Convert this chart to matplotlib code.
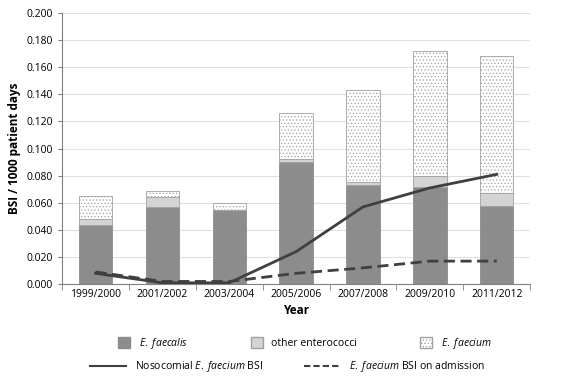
import numpy as np
import matplotlib.pyplot as plt
from matplotlib.patches import Patch
from matplotlib.lines import Line2D

plt.rcParams['font.family'] = ['Open Sans', 'DejaVu Sans']
plt.rcParams['mathtext.fontset'] = 'custom'
plt.rcParams['mathtext.rm'] = 'Open Sans'
plt.rcParams['mathtext.it'] = 'Open Sans:italic'
plt.rcParams['hatch.color'] = '#c0c0c0'
plt.rcParams['hatch.linewidth'] = 0.5

years = ['1999/2000', '2001/2002', '2003/2004', '2005/2006', '2007/2008', '2009/2010', '2011/2012']
faecalis = [0.044, 0.057, 0.055, 0.090, 0.073, 0.072, 0.058]
other = [0.004, 0.007, 0.000, 0.002, 0.002, 0.008, 0.009]
faecium = [0.017, 0.005, 0.005, 0.034, 0.068, 0.092, 0.101]
nosocomial = [0.008, 0.001, 0.001, 0.024, 0.057, 0.071, 0.081]
admission = [0.009, 0.002, 0.002, 0.008, 0.012, 0.017, 0.017]

fig = plt.figure(figsize=(5.75, 3.84), dpi=100)
ax = fig.add_axes([0.108, 0.26, 0.814, 0.706])

x = np.arange(len(years))
w = 0.5
b1 = np.array(faecalis)
b2 = b1 + np.array(other)
ax.bar(x, faecalis, w, color='#8c8c8c', edgecolor='#8c8c8c', linewidth=0.6, zorder=2)
ax.bar(x, other, w, bottom=b1, color='#d4d4d4', edgecolor='#a0a0a0', linewidth=0.6, zorder=2)
ax.bar(x, faecium, w, bottom=b2, color='white', edgecolor='#a0a0a0', hatch='.....', linewidth=0.6, zorder=2)

ax.plot(x, nosocomial, color='#404040', lw=2, zorder=3)
ax.plot(x, admission, color='#404040', lw=2, ls=(0, (4, 2)), zorder=3)

ax.set_xlim(-0.5, len(years) - 0.5)
ax.set_ylim(0, 0.2)
ax.set_yticks(np.arange(0, 0.2001, 0.02))
ax.set_yticklabels([f'{v:.3f}' for v in np.arange(0, 0.2001, 0.02)], fontsize=7.5)
ax.set_xticks(x)
ax.set_xticklabels(years, fontsize=7.5)
ax.tick_params(axis='x', length=0)
ax.set_xticks(np.arange(-0.5, len(years)), minor=True)
ax.tick_params(axis='x', which='minor', length=4, color='#808080')
ax.tick_params(axis='y', length=3, color='#808080')
ax.yaxis.grid(True, color='#e0e0e0', lw=0.8, zorder=0)
ax.set_axisbelow(True)
for s in ['top', 'right']:
    ax.spines[s].set_visible(False)
ax.spines['left'].set_color('#808080')
ax.spines['bottom'].set_color('#808080')

ax.set_xlabel('Year', fontsize=8.5, fontweight='bold', labelpad=3)
ax.set_ylabel('BSI / 1000 patient days', fontsize=8.5, fontweight='bold')

h1 = [Patch(facecolor='#8c8c8c', edgecolor='#8c8c8c'),
      Patch(facecolor='#d4d4d4', edgecolor='#a0a0a0'),
      Patch(facecolor='white', edgecolor='#a0a0a0', hatch='.....')]
l1 = [r'$\it{E.\ faecalis}$', 'other enterococci', r'$\it{E.\ faecium}$']
fig.legend(h1, l1, loc='center', bbox_to_anchor=(0.53, 0.105), ncol=3, frameon=False,
           fontsize=7.5, columnspacing=6, handlelength=1.2, handleheight=1.2)
h2 = [Line2D([], [], color='#404040', lw=1.5),
      Line2D([], [], color='#404040', lw=1.5, ls=(0, (3, 1.5)))]
l2 = [r'Nosocomial $\it{E.\ faecium}$ BSI', r'$\it{E.\ faecium}$ BSI on admission']
fig.legend(h2, l2, loc='center', bbox_to_anchor=(0.5, 0.045), ncol=2, frameon=False,
           fontsize=7.5, columnspacing=4, handlelength=3.5)

fig.savefig('out.png', dpi=100)
